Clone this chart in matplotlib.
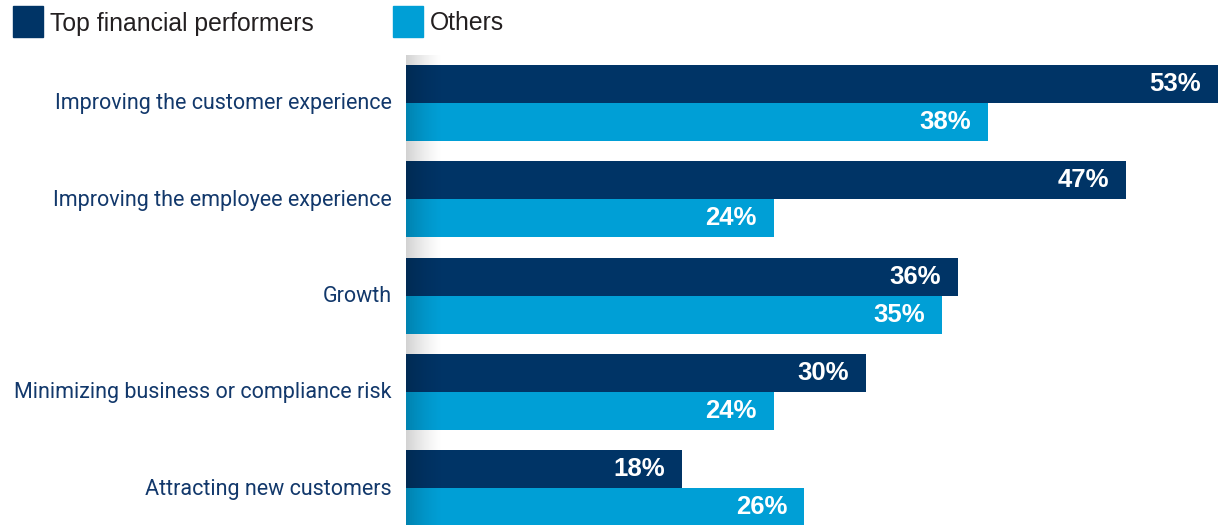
import numpy as np
import matplotlib.pyplot as plt

categories = [
    'Improving the customer experience',
    'Improving the employee experience',
    'Growth',
    'Minimizing business or compliance risk',
    'Attracting new customers',
]
top_performers = [53, 47, 36, 30, 18]
others = [38, 24, 35, 24, 26]
series_names = ['Top financial performers', 'Others']

DARK = '#003466'
LIGHT = '#009fd6'
LABEL_COLOR = '#12386b'

W, H = 1226, 525
fig = plt.figure(figsize=(W / 100, H / 100), dpi=100)

# axes spans from the bar baseline (x=406px) to the right edge
x0 = 406
ax = fig.add_axes([x0 / W, 0, (W - x0) / W, 1])
px_per_unit = 15.32
ax.set_xlim(0, (W - x0) / px_per_unit)

# y in group units: group centres at 103px, spacing 96.3px
step = 96.3
c0 = 103
ax.set_ylim((H - c0) / step, (0 - c0) / step)
bar_h = 38 / step

y = np.arange(len(categories))
ax.barh(y - bar_h / 2, top_performers, height=bar_h, color=DARK, zorder=2)
ax.barh(y + bar_h / 2, others, height=bar_h, color=LIGHT, zorder=2)

pad = 17 / px_per_unit
for i in range(len(categories)):
    for val, yy in ((top_performers[i], y[i] - bar_h / 2), (others[i], y[i] + bar_h / 2)):
        ax.text(val - pad, yy, f'{val}%', ha='right', va='center', color='white',
                fontsize=18.5, fontweight='bold', family=['Liberation Sans', 'DejaVu Sans'], zorder=4)

# soft shadow along the baseline
grad = np.linspace(1, 0, 64) ** 1.4
shade = np.zeros((2, 64, 4))
shade[..., 3] = 0.18 * grad
y_top = (55 - c0) / step
ax.imshow(shade, extent=[0, 38 / px_per_unit, (H - c0) / step, y_top], aspect='auto',
          interpolation='bilinear', zorder=3)

ax.axis('off')

# category labels to the left of the bars
for i, cat in enumerate(categories):
    fig.text(392 / W, 1 - (c0 + 1 + step * i) / H, cat, ha='right', va='center',
             color=LABEL_COLOR, fontsize=15.5, family=['Roboto', 'DejaVu Sans'])

# legend
for (lx, name, col) in ((13, series_names[0], DARK), (393, series_names[1], LIGHT)):
    fig.patches.append(plt.Rectangle((lx / W, 1 - 37 / H), 30 / W, 31 / H, color=col,
                                     transform=fig.transFigure, figure=fig))
    fig.text((lx + 37) / W, 1 - 23.5 / H, name, ha='left', va='center', color='#231f20',
             fontsize=17.8, family=['Liberation Sans', 'DejaVu Sans'])

fig.savefig('out.png', dpi=100)
